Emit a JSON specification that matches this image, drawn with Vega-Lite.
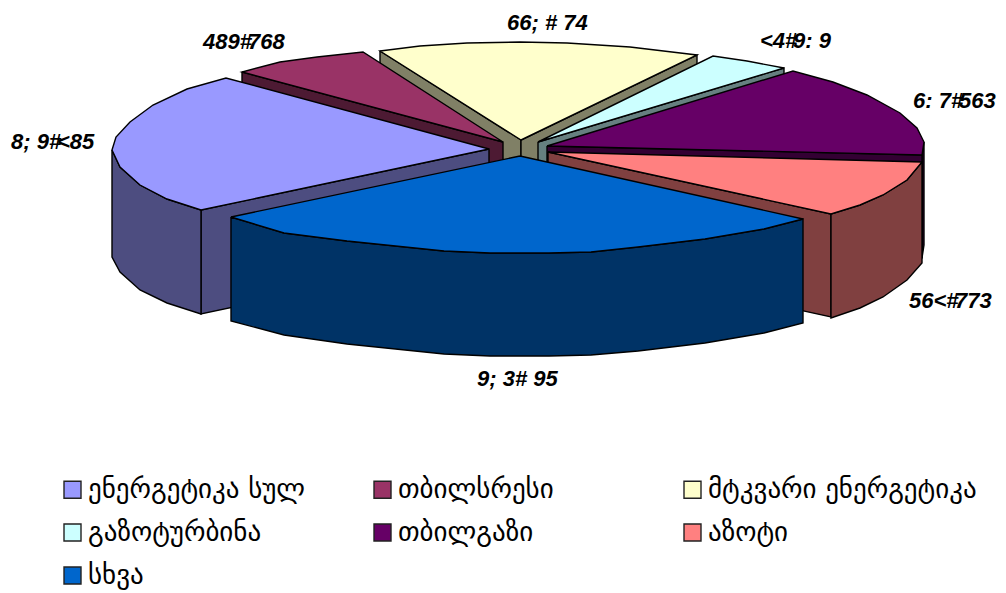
{"$schema":"https://vega.github.io/schema/vega-lite/v6.json","width":1006,"height":593,"padding":0,"autosize":{"type":"fit","contains":"padding"},"background":"white","config":{"view":{"stroke":null}},"datasets":{"faces":[
{"f":"ivory cut left","i":1,"x":380,"y":51},{"f":"ivory cut left","i":2,"x":521,"y":140},{"f":"ivory cut left","i":3,"x":521,"y":243},{"f":"ivory cut left","i":4,"x":380,"y":154},{"f":"ivory cut left","i":5,"x":380,"y":51},
{"f":"ivory cut right","i":1,"x":521,"y":140},{"f":"ivory cut right","i":2,"x":697,"y":55},{"f":"ivory cut right","i":3,"x":697,"y":158},{"f":"ivory cut right","i":4,"x":521,"y":243},{"f":"ivory cut right","i":5,"x":521,"y":140},
{"f":"მტკვარი ენერგეტიკა","i":1,"x":521,"y":140},{"f":"მტკვარი ენერგეტიკა","i":2,"x":380,"y":51},{"f":"მტკვარი ენერგეტიკა","i":3,"x":420,"y":46},{"f":"მტკვარი ენერგეტიკა","i":4,"x":467,"y":43},{"f":"მტკვარი ენერგეტიკა","i":5,"x":520,"y":42},{"f":"მტკვარი ენერგეტიკა","i":6,"x":567,"y":43},{"f":"მტკვარი ენერგეტიკა","i":7,"x":630,"y":47},{"f":"მტკვარი ენერგეტიკა","i":8,"x":697,"y":55},{"f":"მტკვარი ენერგეტიკა","i":9,"x":521,"y":140},
{"f":"cyan cut","i":1,"x":538,"y":142},{"f":"cyan cut","i":2,"x":784,"y":68},{"f":"cyan cut","i":3,"x":784,"y":171},{"f":"cyan cut","i":4,"x":538,"y":245},{"f":"cyan cut","i":5,"x":538,"y":142},
{"f":"გაზოტურბინა","i":1,"x":538,"y":142},{"f":"გაზოტურბინა","i":2,"x":713,"y":56},{"f":"გაზოტურბინა","i":3,"x":747,"y":61},{"f":"გაზოტურბინა","i":4,"x":784,"y":68},{"f":"გაზოტურბინა","i":5,"x":538,"y":142},
{"f":"maroon cut","i":1,"x":242,"y":72},{"f":"maroon cut","i":2,"x":503,"y":142},{"f":"maroon cut","i":3,"x":503,"y":245},{"f":"maroon cut","i":4,"x":242,"y":175},{"f":"maroon cut","i":5,"x":242,"y":72},
{"f":"თბილსრესი","i":1,"x":503,"y":142},{"f":"თბილსრესი","i":2,"x":242,"y":72},{"f":"თბილსრესი","i":3,"x":280,"y":62},{"f":"თბილსრესი","i":4,"x":317,"y":57},{"f":"თბილსრესი","i":5,"x":363,"y":52},{"f":"თბილსრესი","i":6,"x":503,"y":142},
{"f":"purple side","i":1,"x":924,"y":142},{"f":"purple side","i":2,"x":922,"y":155},{"f":"purple side","i":3,"x":922,"y":258},{"f":"purple side","i":4,"x":924,"y":245},{"f":"purple side","i":5,"x":924,"y":142},
{"f":"purple cut","i":1,"x":547,"y":146},{"f":"purple cut","i":2,"x":922,"y":155},{"f":"purple cut","i":3,"x":922,"y":258},{"f":"purple cut","i":4,"x":547,"y":249},{"f":"purple cut","i":5,"x":547,"y":146},
{"f":"თბილგაზი","i":1,"x":547,"y":146},{"f":"თბილგაზი","i":2,"x":793,"y":71},{"f":"თბილგაზი","i":3,"x":833,"y":82},{"f":"თბილგაზი","i":4,"x":867,"y":95},{"f":"თბილგაზი","i":5,"x":900,"y":113},{"f":"თბილგაზი","i":6,"x":917,"y":128},{"f":"თბილგაზი","i":7,"x":924,"y":142},{"f":"თბილგაზი","i":8,"x":922,"y":155},{"f":"თბილგაზი","i":9,"x":547,"y":146},
{"f":"salmon cut","i":1,"x":548,"y":152},{"f":"salmon cut","i":2,"x":831,"y":214},{"f":"salmon cut","i":3,"x":831,"y":317},{"f":"salmon cut","i":4,"x":548,"y":255},{"f":"salmon cut","i":5,"x":548,"y":152},
{"f":"salmon side","i":1,"x":922,"y":162},{"f":"salmon side","i":2,"x":907,"y":180},{"f":"salmon side","i":3,"x":883,"y":195},{"f":"salmon side","i":4,"x":860,"y":205},{"f":"salmon side","i":5,"x":831,"y":214},{"f":"salmon side","i":6,"x":831,"y":318},{"f":"salmon side","i":7,"x":860,"y":308},{"f":"salmon side","i":8,"x":883,"y":297},{"f":"salmon side","i":9,"x":907,"y":280},{"f":"salmon side","i":10,"x":922,"y":263},{"f":"salmon side","i":11,"x":922,"y":162},
{"f":"აზოტი","i":1,"x":548,"y":152},{"f":"აზოტი","i":2,"x":922,"y":162},{"f":"აზოტი","i":3,"x":907,"y":180},{"f":"აზოტი","i":4,"x":883,"y":195},{"f":"აზოტი","i":5,"x":860,"y":205},{"f":"აზოტი","i":6,"x":831,"y":214},{"f":"აზოტი","i":7,"x":548,"y":152},
{"f":"lilac cut","i":1,"x":201,"y":210},{"f":"lilac cut","i":2,"x":489,"y":149},{"f":"lilac cut","i":3,"x":489,"y":252},{"f":"lilac cut","i":4,"x":201,"y":314},{"f":"lilac cut","i":5,"x":201,"y":210},
{"f":"lilac side","i":1,"x":112,"y":150},{"f":"lilac side","i":2,"x":120,"y":167},{"f":"lilac side","i":3,"x":140,"y":185},{"f":"lilac side","i":4,"x":167,"y":199},{"f":"lilac side","i":5,"x":201,"y":210},{"f":"lilac side","i":6,"x":201,"y":314},{"f":"lilac side","i":7,"x":167,"y":303},{"f":"lilac side","i":8,"x":140,"y":290},{"f":"lilac side","i":9,"x":120,"y":272},{"f":"lilac side","i":10,"x":112,"y":257},{"f":"lilac side","i":11,"x":112,"y":150},
{"f":"ენერგეტიკა სულ","i":1,"x":489,"y":149},{"f":"ენერგეტიკა სულ","i":2,"x":226,"y":78},{"f":"ენერგეტიკა სულ","i":3,"x":187,"y":89},{"f":"ენერგეტიკა სულ","i":4,"x":153,"y":105},{"f":"ენერგეტიკა სულ","i":5,"x":130,"y":122},{"f":"ენერგეტიკა სულ","i":6,"x":116,"y":137},{"f":"ენერგეტიკა სულ","i":7,"x":112,"y":150},{"f":"ენერგეტიკა სულ","i":8,"x":120,"y":167},{"f":"ენერგეტიკა სულ","i":9,"x":140,"y":185},{"f":"ენერგეტიკა სულ","i":10,"x":167,"y":199},{"f":"ენერგეტიკა სულ","i":11,"x":201,"y":210},{"f":"ენერგეტიკა სულ","i":12,"x":489,"y":149},
{"f":"blue side","i":1,"x":231,"y":217},{"f":"blue side","i":2,"x":284,"y":233},{"f":"blue side","i":3,"x":347,"y":241},{"f":"blue side","i":4,"x":444,"y":251},{"f":"blue side","i":5,"x":490,"y":253},{"f":"blue side","i":6,"x":549,"y":253},{"f":"blue side","i":7,"x":591,"y":252},{"f":"blue side","i":8,"x":638,"y":247},{"f":"blue side","i":9,"x":705,"y":239},{"f":"blue side","i":10,"x":764,"y":229},{"f":"blue side","i":11,"x":803,"y":219},{"f":"blue side","i":12,"x":803,"y":323},{"f":"blue side","i":13,"x":764,"y":333},{"f":"blue side","i":14,"x":705,"y":343},{"f":"blue side","i":15,"x":638,"y":351},{"f":"blue side","i":16,"x":591,"y":355},{"f":"blue side","i":17,"x":549,"y":356},{"f":"blue side","i":18,"x":490,"y":356},{"f":"blue side","i":19,"x":444,"y":354},{"f":"blue side","i":20,"x":347,"y":344},{"f":"blue side","i":21,"x":284,"y":335},{"f":"blue side","i":22,"x":231,"y":321},{"f":"blue side","i":23,"x":231,"y":217},
{"f":"სხვა","i":1,"x":520,"y":156},{"f":"სხვა","i":2,"x":231,"y":217},{"f":"სხვა","i":3,"x":284,"y":233},{"f":"სხვა","i":4,"x":347,"y":241},{"f":"სხვა","i":5,"x":444,"y":251},{"f":"სხვა","i":6,"x":490,"y":253},{"f":"სხვა","i":7,"x":549,"y":253},{"f":"სხვა","i":8,"x":591,"y":252},{"f":"სხვა","i":9,"x":638,"y":247},{"f":"სხვა","i":10,"x":705,"y":239},{"f":"სხვა","i":11,"x":764,"y":229},{"f":"სხვა","i":12,"x":803,"y":219},{"f":"სხვა","i":13,"x":520,"y":156}
],"labels":[
{"t":"489#","x":203,"y":49},{"t":"768","x":248,"y":49},
{"t":"66; # 74","x":507,"y":30},
{"t":"<4#","x":760,"y":48},{"t":"9: 9","x":793,"y":48},
{"t":"6: 7#","x":913,"y":108},{"t":"563","x":959,"y":108},
{"t":"56<#","x":909,"y":308},{"t":"773","x":955,"y":308},
{"t":"9; 3# 95","x":477,"y":386},
{"t":"8; 9#","x":11,"y":149},{"t":"<85","x":57,"y":149}
]},
"layer":[
{"data":{"name":"faces"},"mark":{"type":"line","stroke":"black","strokeWidth":1.4,"filled":true,"strokeJoin":"miter"},
"encoding":{"x":{"field":"x","type":"quantitative","scale":{"domain":[0,1006],"nice":false,"zero":false},"axis":null},
"y":{"field":"y","type":"quantitative","scale":{"domain":[0,593],"nice":false,"zero":false,"reverse":true},"axis":null},
"order":{"field":"i","type":"quantitative"},
"fill":{"field":"f","type":"nominal","sort":null,"scale":{"domain":["ენერგეტიკა სულ","თბილსრესი","მტკვარი ენერგეტიკა","გაზოტურბინა","თბილგაზი","აზოტი","სხვა","ivory cut left","ivory cut right","cyan cut","maroon cut","purple side","purple cut","salmon cut","salmon side","lilac cut","lilac side","blue side"],"range":["#9999FF","#993366","#FFFFCC","#CCFFFF","#660066","#FF8080","#0066CC","#808066","#808066","#668080","#4D1A33","#330033","#330033","#804040","#804040","#4D4D80","#4D4D80","#003366"]},
"legend":{"values":["ენერგეტიკა სულ","თბილსრესი","მტკვარი ენერგეტიკა","გაზოტურბინა","თბილგაზი","აზოტი","სხვა"],"title":null,"orient":"none","direction":"horizontal","legendX":59,"legendY":476,"columns":3,"gridAlign":"all","columnPadding":12,"rowPadding":15,"symbolType":"square","symbolSize":289,"symbolStrokeColor":"#222222","symbolStrokeWidth":1.4,"labelFont":"DejaVu Sans","labelFontSize":27,"labelColor":"black","labelOffset":2,"labelLimit":340}}}},
{"data":{"name":"labels"},"mark":{"type":"text","font":"Liberation Sans","fontSize":22,"fontWeight":"bold","fontStyle":"italic","align":"left","baseline":"alphabetic","color":"black"},
"encoding":{"x":{"field":"x","type":"quantitative"},"y":{"field":"y","type":"quantitative"},"text":{"field":"t","type":"nominal"}}}
]}
